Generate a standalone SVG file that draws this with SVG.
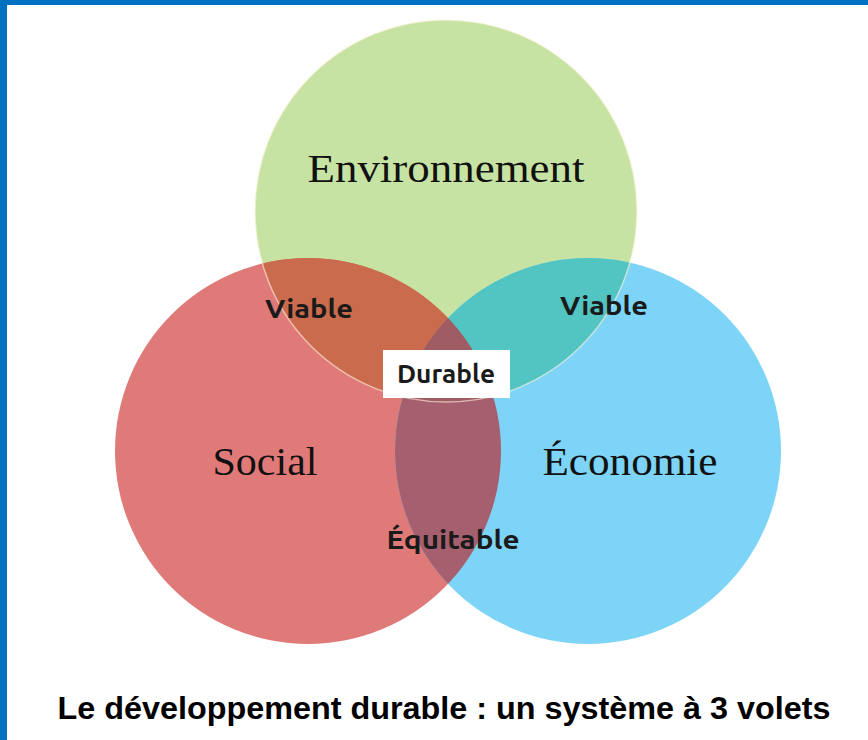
<svg xmlns="http://www.w3.org/2000/svg" width="868" height="740" viewBox="0 0 868 740">
<style>
.serif{font-family:"Liberation Serif","DejaVu Serif",serif;fill:#111}
.sans{font-family:"Ubuntu","Open Sans","Noto Sans",sans-serif;fill:#1a1a1a;font-weight:600}
.title{font-family:"Liberation Sans",Arial,sans-serif;font-weight:bold;fill:#000}
</style>
<defs>
<clipPath id="cG"><circle cx="446" cy="211" r="191"/></clipPath>
<clipPath id="cR"><circle cx="308" cy="451" r="193"/></clipPath>
<clipPath id="cB"><circle cx="588" cy="451" r="193"/></clipPath>
</defs>
<rect x="0" y="0" width="868" height="740" fill="#fff"/>
<rect x="0" y="0" width="868" height="5" fill="#0070c0"/>
<rect x="0" y="0" width="7" height="740" fill="#0070c0"/>
<g id="environnement">
<circle cx="446" cy="211" r="191" fill="#c6e3a3"/>
</g>
<g id="social">
<circle cx="308" cy="451" r="193" fill="#e07a79"/>
</g>
<g id="economie">
<circle cx="588" cy="451" r="193" fill="#7dd4f6"/>
</g>
<g id="overlaps">
<circle cx="308" cy="451" r="193" fill="#c96b4c" clip-path="url(#cG)"/>
<circle cx="588" cy="451" r="193" fill="#52c4c2" clip-path="url(#cG)"/>
<circle cx="588" cy="451" r="193" fill="#a65f6e" clip-path="url(#cR)"/>
<g clip-path="url(#cG)"><circle cx="588" cy="451" r="193" fill="#a05c63" clip-path="url(#cR)"/></g>
<circle cx="446" cy="211" r="191" fill="none" stroke="#fff3e0" stroke-width="1.5" stroke-opacity="0.6"/>
</g>
<g id="labels">
<text class="serif" x="446" y="182" font-size="41" text-anchor="middle" textLength="277" lengthAdjust="spacingAndGlyphs">Environnement</text>
<text class="serif" x="265" y="475" font-size="41" text-anchor="middle" textLength="105" lengthAdjust="spacingAndGlyphs">Social</text>
<text class="serif" x="630" y="475" font-size="41" text-anchor="middle" textLength="175" lengthAdjust="spacingAndGlyphs">Économie</text>
<text class="sans" x="309" y="318" font-size="26" text-anchor="middle" textLength="88" lengthAdjust="spacingAndGlyphs">Viable</text>
<text class="sans" x="604" y="315" font-size="26" text-anchor="middle" textLength="88" lengthAdjust="spacingAndGlyphs">Viable</text>
<text class="sans" x="453" y="549" font-size="26" text-anchor="middle" textLength="133" lengthAdjust="spacingAndGlyphs">Équitable</text>
</g>
<g id="durable">
<rect x="383" y="350" width="127" height="48" fill="#fff"/>
<text class="sans" x="446" y="383" font-size="26" text-anchor="middle" textLength="98" lengthAdjust="spacingAndGlyphs">Durable</text>
</g>
<text class="title" x="444" y="719" font-size="32" text-anchor="middle" textLength="773" lengthAdjust="spacingAndGlyphs">Le développement durable : un système à 3 volets</text>
</svg>
